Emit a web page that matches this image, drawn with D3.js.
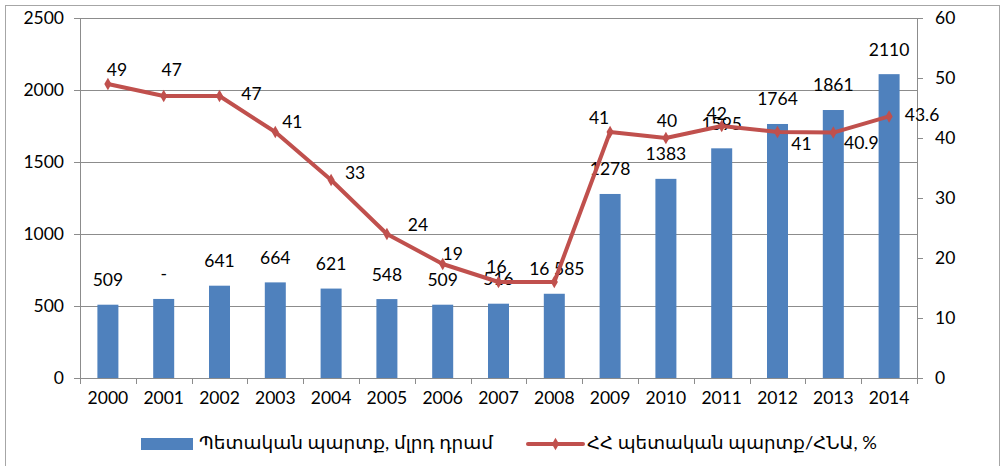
<!DOCTYPE html>
<html>
<head>
<meta charset="utf-8">
<script src="https://cdn.jsdelivr.net/npm/d3@7"></script>
<style>
  body { margin: 0; background: #fff; }
  text { font-family: Lato, "DejaVu Sans", sans-serif; fill: #000; }
</style>
</head>
<body>
<div id="chart"></div>
<script>
const years = ["2000","2001","2002","2003","2004","2005","2006","2007","2008","2009","2010","2011","2012","2013","2014"];
const debt = [509, 549, 641, 664, 621, 548, 509, 516, 585, 1278, 1383, 1595, 1764, 1861, 2110];
const debtLabels = ["509","-","641","664","621","548","509","516","585","1278","1383","1595","1764","1861","2110"];
const ratio = [49, 47, 47, 41, 33, 24, 19, 16, 16, 41, 40, 42, 41, 40.9, 43.6];
const ratioLabels = ["49","47","47","41","33","24","19","16","16","41","40","42","41","40.9","43.6"];
const leftTicks = [0, 500, 1000, 1500, 2000, 2500];
const rightTicks = [0, 10, 20, 30, 40, 50, 60];
const legendNames = ["Պետական պարտք, մլրդ դրամ", "ՀՀ պետական պարտք/ՀՆԱ, %"];

// label centre offset from each line point (placed by hand in the original)
const ratioLabelOffset = [[9,-12],[8,-24],[32,0],[17,-8],[24,-5],[31,-7],[10,-8],[-2,-13],[-15,-11],[-11,-12],[1,-15],[-5,-10],[24,14],[28,12],[33,0]];
// bar labels nudged sideways (only 2008 was moved in the original)
const debtLabelShift = [0,0,0,0,0,0,0,0,15,0,0,0,0,0,0];

const W = 1004, H = 466;
const m = {left: 80, right: 87, top: 18, bottom: 88};
const iw = W - m.left - m.right, ih = H - m.top - m.bottom;
const fs = "17.5px";

const svg = d3.select("#chart").append("svg")
    .attr("width", W).attr("height", H);

svg.append("rect")
    .attr("x", 5.5).attr("y", 5.5)
    .attr("width", 994).attr("height", 480)
    .attr("fill", "none").attr("stroke", "#a6a6a6");

const g = svg.append("g").attr("transform", `translate(${m.left},${m.top})`);

const x = d3.scaleBand().domain(years).range([0, iw]);
const yL = d3.scaleLinear().domain([0, 2500]).range([ih, 0]);
const yR = d3.scaleLinear().domain([0, 60]).range([ih, 0]);

const gridColor = "#8c8c8c";

// gridlines
g.selectAll(".grid").data(leftTicks).enter().append("line")
    .attr("x1", 0).attr("x2", iw)
    .attr("y1", d => Math.round(yL(d)) + 0.5).attr("y2", d => Math.round(yL(d)) + 0.5)
    .attr("stroke", gridColor);

// axes
const axL = g.append("g").call(d3.axisLeft(yL).tickValues(leftTicks).tickFormat(d3.format("d")).tickSize(6).tickPadding(10));
const axR = g.append("g").attr("transform", `translate(${iw},0)`)
    .call(d3.axisRight(yR).tickValues(rightTicks).tickSize(6).tickPadding(12));
const axB = g.append("g").attr("transform", `translate(0,${ih})`)
    .call(d3.axisBottom(x).tickSize(0).tickPadding(14));

[axL, axR, axB].forEach(a => {
    a.selectAll("path, line").attr("stroke", gridColor);
    a.selectAll("text").style("font-size", fs).style("font-family", "Lato, 'DejaVu Sans', sans-serif");
});

// x-axis band ticks
g.selectAll(".xtick").data(years.concat(["end"])).enter().append("line")
    .attr("x1", (d, i) => Math.round(i * x.step()) + 0.5)
    .attr("x2", (d, i) => Math.round(i * x.step()) + 0.5)
    .attr("y1", ih).attr("y2", ih + 6)
    .attr("stroke", gridColor);

// bars
const bw = 21;
g.selectAll(".bar").data(debt).enter().append("rect")
    .attr("x", (d, i) => x(years[i]) + x.bandwidth() / 2 - bw / 2)
    .attr("y", d => yL(d))
    .attr("width", bw)
    .attr("height", d => ih - yL(d))
    .attr("fill", "#4f81bd");

g.selectAll(".blabel").data(debt).enter().append("text")
    .attr("x", (d, i) => x(years[i]) + x.bandwidth() / 2 + debtLabelShift[i])
    .attr("y", d => yL(d) - 23)
    .attr("text-anchor", "middle")
    .attr("dominant-baseline", "middle")
    .style("font-size", fs)
    .text((d, i) => debtLabels[i]);

// line
const line = d3.line()
    .x((d, i) => x(years[i]) + x.bandwidth() / 2)
    .y(d => yR(d));

g.append("path").datum(ratio)
    .attr("d", line)
    .attr("fill", "none")
    .attr("stroke", "#c0504d")
    .attr("stroke-width", 4)
    .attr("stroke-linejoin", "round");

g.selectAll(".mk").data(ratio).enter().append("path")
    .attr("d", d3.symbol(d3.symbolDiamond, 45))
    .attr("transform", (d, i) => `translate(${x(years[i]) + x.bandwidth() / 2},${yR(d)})`)
    .attr("fill", "#c0504d");

g.selectAll(".llabel").data(ratio).enter().append("text")
    .attr("x", (d, i) => x(years[i]) + x.bandwidth() / 2 + ratioLabelOffset[i][0])
    .attr("y", (d, i) => yR(d) + ratioLabelOffset[i][1])
    .attr("text-anchor", "middle")
    .attr("dominant-baseline", "middle")
    .style("font-size", fs)
    .text((d, i) => ratioLabels[i]);

// legend
const lg = svg.append("g").attr("transform", "translate(141,444)");
lg.append("rect").attr("x", 0).attr("y", -6).attr("width", 52).attr("height", 12).attr("fill", "#4f81bd");
lg.append("text").attr("x", 58).attr("y", 0).attr("dominant-baseline", "middle")
    .attr("textLength", 294).attr("lengthAdjust", "spacingAndGlyphs")
    .style("font-size", "18px").text(legendNames[0]);
lg.append("line").attr("x1", 387).attr("x2", 442).attr("y1", 0).attr("y2", 0)
    .attr("stroke", "#c0504d").attr("stroke-width", 4).attr("stroke-linecap", "round");
lg.append("path").attr("d", d3.symbol(d3.symbolDiamond, 45))
    .attr("transform", "translate(414.5,0)").attr("fill", "#c0504d");
lg.append("text").attr("x", 446).attr("y", 0).attr("dominant-baseline", "middle")
    .attr("textLength", 290).attr("lengthAdjust", "spacingAndGlyphs")
    .style("font-size", "18px").text(legendNames[1]);
</script>
</body>
</html>
